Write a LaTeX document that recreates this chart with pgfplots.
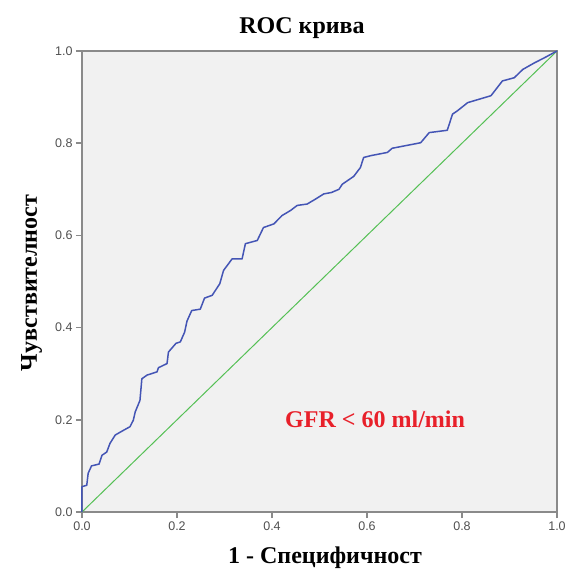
\documentclass[border=0pt]{standalone}
\usepackage{fontspec}
\setmainfont{Liberation Serif}
\newfontfamily\arial{Liberation Sans}
\usepackage{pgfplots}
\pgfplotsset{compat=1.18}
\definecolor{bgc}{HTML}{F1F1F1}
\definecolor{axc}{HTML}{8A8A8A}
\definecolor{rocblue}{HTML}{4455B5}
\definecolor{refgreen}{HTML}{55C055}
\definecolor{tickc}{HTML}{505050}
\definecolor{gfrred}{HTML}{E8202A}
\begin{document}
\begin{tikzpicture}
\useasboundingbox (-82pt,-57pt) rectangle (484pt,512pt);
\begin{axis}[
  at={(0pt,0pt)}, anchor=south west,
  scale only axis, width=475pt, height=461pt,
  xmin=0, xmax=1, ymin=0, ymax=1,
  axis background/.style={fill=bgc},
  axis line style={draw=axc, line width=2.5pt},
  xtick={0,0.2,0.4,0.6,0.8,1},
  ytick={0,0.2,0.4,0.6,0.8,1},
  xticklabels={0.0,0.2,0.4,0.6,0.8,1.0},
  yticklabels={0.0,0.2,0.4,0.6,0.8,1.0},
  xtick pos=bottom, ytick pos=left,
  tick align=outside, major tick length=6pt,
  tick style={draw=axc, line width=1.5pt},
  ticklabel style={font=\arial\fontsize{12.5}{15}\selectfont, text=tickc},
  clip=false,
]
\addplot[refgreen, line width=1pt] coordinates {(0,0) (1,1)};
\addplot[rocblue, line width=1.5pt, line join=round] coordinates {
(0,0) (0,0.055) (0.01,0.058) (0.013,0.084) (0.02,0.10) (0.036,0.104)
(0.042,0.123) (0.052,0.13) (0.059,0.149) (0.07,0.167) (0.087,0.177)
(0.101,0.185) (0.108,0.199) (0.112,0.217) (0.122,0.242) (0.126,0.289)
(0.137,0.297) (0.158,0.304) (0.161,0.313) (0.179,0.322) (0.182,0.347)
(0.198,0.366) (0.207,0.369) (0.216,0.39) (0.221,0.414) (0.231,0.437)
(0.249,0.440) (0.258,0.464) (0.274,0.47) (0.29,0.495) (0.298,0.524)
(0.316,0.549) (0.337,0.549) (0.344,0.582) (0.369,0.589) (0.382,0.617)
(0.404,0.625) (0.421,0.643) (0.439,0.654) (0.453,0.665) (0.474,0.668)
(0.492,0.679) (0.509,0.69) (0.525,0.693) (0.541,0.70) (0.548,0.711)
(0.572,0.728) (0.586,0.747) (0.593,0.769) (0.608,0.773) (0.643,0.78)
(0.653,0.789) (0.713,0.801) (0.731,0.823) (0.769,0.828) (0.78,0.863)
(0.79,0.87) (0.812,0.888) (0.861,0.903) (0.885,0.935) (0.91,0.942)
(0.928,0.96) (0.952,0.974) (0.973,0.985) (1,1)
};
\node[anchor=base, font=\bfseries\fontsize{24}{28}\selectfont] at ([shift={(220pt,17pt)}]rel axis cs:0,1) {ROC крива};
\node[anchor=base, font=\bfseries\fontsize{24}{28}\selectfont] at ([shift={(243pt,-51pt)}]rel axis cs:0,0) {1 - Специфичност};
\node[anchor=base, rotate=90, font=\bfseries\fontsize{24}{28}\selectfont] at ([shift={(-45pt,229pt)}]rel axis cs:0,0) {Чувствителност};
\node[anchor=base, text=gfrred, font=\bfseries\fontsize{24}{28}\selectfont] at (axis cs:0.617,0.184) {GFR < 60 ml/min};
\end{axis}
\end{tikzpicture}
\end{document}
